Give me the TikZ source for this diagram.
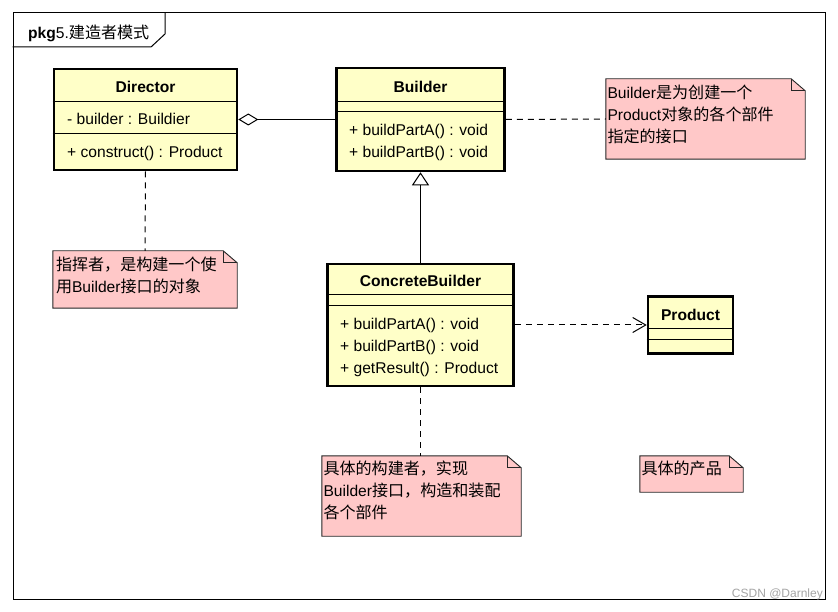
\documentclass[tikz,border=0pt]{standalone}
\usepackage{fontspec}
\setmainfont{Liberation Sans}
\newfontfamily\cjk[Scale=1.03]{Noto Sans CJK SC}
\usetikzlibrary{arrows.meta,calc}
\definecolor{clsfill}{RGB}{255,255,200}
\definecolor{notefill}{RGB}{255,200,200}
\definecolor{wmgray}{RGB}{165,165,165}
\newcommand\drawnotebox[1]{%
  \draw[noteline] (#1.north west) -- ($(#1.north east)+(-14,0)$) -- ($(#1.north east)+(0,12)$) -- (#1.south east) -- (#1.south west) -- cycle;
  \draw[noteline,fill=none] ($(#1.north east)+(-14,0)$) -- ($(#1.north east)+(-14,12)$) -- ($(#1.north east)+(0,12)$);
}
\begin{document}
\begin{tikzpicture}[x=1pt,y=-1pt,
  cls/.style={draw=black, line width=2.6pt, fill=clsfill, inner sep=0, rectangle},
  sep/.style={line width=1pt},
  ttl/.style={font=\fontsize{15.6}{18}\selectfont\bfseries, inner sep=0, text height=11.2pt, text depth=0pt},
  mem/.style={font=\fontsize{15.6}{18}\selectfont, inner sep=0, anchor=west, text height=11.2pt, text depth=0pt},
  notearea/.style={inner sep=0, rectangle},
  noteline/.style={draw=black!85, line width=0.9pt, fill=notefill},
  notetext/.style={font=\fontsize{15.6}{22}\selectfont, align=left, anchor=north west, inner sep=0},
  conn/.style={line width=1pt},
  dashconn/.style={line width=1pt, dash pattern=on 6pt off 5pt},
]
\useasboundingbox (0,0) rectangle (838,612);
\fill[white] (0,0) rectangle (838,612);

% frame and tab
\node[draw, line width=1pt, inner sep=0, minimum width=812, minimum height=586] (frame) at (419,306) {};
\draw[line width=1pt] (frame.north west |- 0,47) -- (151,47) -- (165,34) -- (165,13);
\node[anchor=west, inner sep=0, font=\fontsize{15.6}{18}\selectfont] (tabtxt) at (28,33) {\textbf{pkg}5.{\cjk 建造者模式}};

% Director
\node[cls, minimum width=183, minimum height=101] (dir) at (145.5,119.5) {};
\draw[sep] (dir.west |- 0,102) -- (dir.east |- 0,102);
\draw[sep] (dir.west |- 0,134) -- (dir.east |- 0,134);
\node[ttl] (dirname) at (145.5,87) {Director};
\node[mem] (dirattr) at (67,119) {- builder : Buildier};
\node[mem] (dirop) at (67,152) {+ construct() : Product};

% Builder
\node[cls, minimum width=168, minimum height=103] (bld) at (420.5,119.5) {};
\draw[sep] (bld.west |- 0,102) -- (bld.east |- 0,102);
\draw[sep] (bld.west |- 0,112) -- (bld.east |- 0,112);
\node[ttl] (bldname) at (420.5,87) {Builder};
\node[mem] (bldopa) at (349,130) {+ buildPartA() : void};
\node[mem] (bldopb) at (349,152) {+ buildPartB() : void};

% ConcreteBuilder
\node[cls, minimum width=186, minimum height=122] (cb) at (420.5,325) {};
\draw[sep] (cb.west |- 0,295) -- (cb.east |- 0,295);
\draw[sep] (cb.west |- 0,306) -- (cb.east |- 0,306);
\node[ttl] (cbname) at (420.5,281) {ConcreteBuilder};
\node[mem] (cbopa) at (340,324) {+ buildPartA() : void};
\node[mem] (cbopb) at (340,346) {+ buildPartB() : void};
\node[mem] (cbopc) at (340,368) {+ getResult() : Product};

% Product
\node[cls, minimum width=85, minimum height=57] (prod) at (690.5,325) {};
\draw[sep] (prod.west |- 0,329) -- (prod.east |- 0,329);
\draw[sep] (prod.west |- 0,339) -- (prod.east |- 0,339);
\node[ttl] (prodname) at (690.5,315) {Product};

% notes
\node[notearea, minimum width=199, minimum height=80] (n1) at (705.5,119) {};
\drawnotebox{n1}
\node[notetext] (n1txt) at ($(n1.north west)+(1.5,5.5)$) {Builder{\cjk 是为创建一个}\\Product{\cjk 对象的各个部件}\\{\cjk 指定的接口}};

\node[notearea, minimum width=184, minimum height=57] (n2) at (145,279.5) {};
\drawnotebox{n2}
\node[notetext] (n2txt) at ($(n2.north west)+(3,6)$) {{\cjk 指挥者，是构建一个使}\\{\cjk 用}Builder{\cjk 接口的对象}};

\node[notearea, minimum width=199, minimum height=80] (n3) at (421.5,496) {};
\drawnotebox{n3}
\node[notetext] (n3txt) at ($(n3.north west)+(1.5,4.5)$) {{\cjk 具体的构建者，实现}\\Builder{\cjk 接口，构造和装配}\\{\cjk 各个部件}};

\node[notearea, minimum width=103, minimum height=36] (n4) at (691.5,474) {};
\drawnotebox{n4}
\node[notetext] (n4txt) at ($(n4.north west)+(1.5,4.5)$) {{\cjk 具体的产品}};

% connectors
\draw[conn, {Diamond[open,length=20pt,width=12pt,fill=white]}-] (dir.east) -- (bld.west);
\draw[conn, -{Triangle[open,length=13pt,width=17pt,fill=white]}] (cb.north) -- (bld.south);
\draw[dashconn, -{Straight Barb[length=13pt,width=15pt,line width=1pt]}] (cb.east) -- (prod.west);
\draw[dashconn] (bld.east) -- (n1.west);
\draw[dashconn] (dir.south) -- (n2.north);
\draw[dashconn] (cb.south) -- (cb.south |- n3.north);

% watermark
\node[anchor=base east, inner sep=0, font=\fontsize{12}{14}\selectfont, text=wmgray] (wm) at (823,597) {CSDN @Darnley};
\end{tikzpicture}
\end{document}
